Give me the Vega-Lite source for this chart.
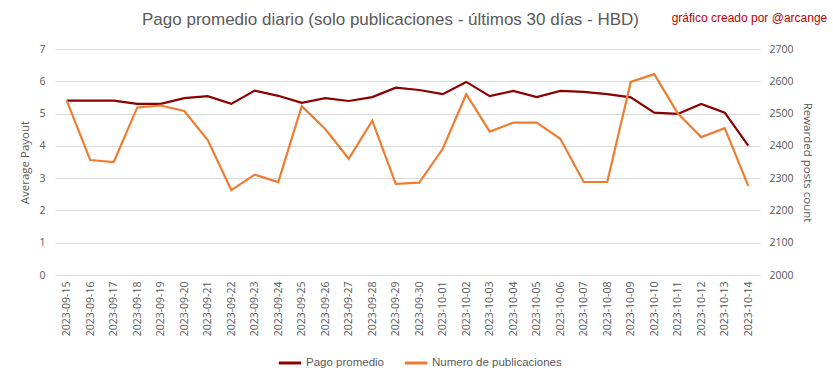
{
  "$schema": "https://vega.github.io/schema/vega-lite/v6.json",
  "width": 705,
  "height": 226,
  "autosize": {"type": "none"},
  "padding": {"left": 55, "top": 49, "right": 73, "bottom": 104},
  "background": "white",
  "title": {
    "text": "Pago promedio diario (solo publicaciones - últimos 30 días - HBD)",
    "anchor": "middle",
    "frame": "group",
    "dx": -17,
    "offset": -17,
    "font": "Liberation Sans",
    "fontSize": 17,
    "fontWeight": "normal",
    "color": "#595959"
  },
  "data": {
    "values": [
      {"date": "2023-09-15", "pago": 5.40, "num": 2540},
      {"date": "2023-09-16", "pago": 5.40, "num": 2356},
      {"date": "2023-09-17", "pago": 5.40, "num": 2350},
      {"date": "2023-09-18", "pago": 5.30, "num": 2519},
      {"date": "2023-09-19", "pago": 5.30, "num": 2525},
      {"date": "2023-09-20", "pago": 5.48, "num": 2508},
      {"date": "2023-09-21", "pago": 5.54, "num": 2418},
      {"date": "2023-09-22", "pago": 5.30, "num": 2263},
      {"date": "2023-09-23", "pago": 5.71, "num": 2311},
      {"date": "2023-09-24", "pago": 5.55, "num": 2288},
      {"date": "2023-09-25", "pago": 5.33, "num": 2523},
      {"date": "2023-09-26", "pago": 5.48, "num": 2452},
      {"date": "2023-09-27", "pago": 5.39, "num": 2360},
      {"date": "2023-09-28", "pago": 5.51, "num": 2478},
      {"date": "2023-09-29", "pago": 5.80, "num": 2282},
      {"date": "2023-09-30", "pago": 5.73, "num": 2286},
      {"date": "2023-10-01", "pago": 5.60, "num": 2391},
      {"date": "2023-10-02", "pago": 5.98, "num": 2560},
      {"date": "2023-10-03", "pago": 5.54, "num": 2444},
      {"date": "2023-10-04", "pago": 5.70, "num": 2472},
      {"date": "2023-10-05", "pago": 5.51, "num": 2472},
      {"date": "2023-10-06", "pago": 5.70, "num": 2422},
      {"date": "2023-10-07", "pago": 5.67, "num": 2288},
      {"date": "2023-10-08", "pago": 5.60, "num": 2288},
      {"date": "2023-10-09", "pago": 5.50, "num": 2598},
      {"date": "2023-10-10", "pago": 5.03, "num": 2622},
      {"date": "2023-10-11", "pago": 4.99, "num": 2501},
      {"date": "2023-10-12", "pago": 5.30, "num": 2427},
      {"date": "2023-10-13", "pago": 5.03, "num": 2455},
      {"date": "2023-10-14", "pago": 4.01, "num": 2276}
    ]
  },
  "encoding": {
    "x": {
      "field": "date",
      "type": "ordinal",
      "scale": {"type": "point", "padding": 0.5},
      "axis": {
        "title": null,
        "labelAngle": -90,
        "labelFont": "Open Sans",
        "labelFontSize": 10.5,
        "labelColor": "#595959",
        "labelPadding": 6,
        "ticks": false,
        "domain": false,
        "grid": false
      }
    }
  },
  "layer": [
    {
      "layer": [
        {
          "mark": {"type": "line", "strokeWidth": 2.2},
          "encoding": {
            "y": {
              "field": "pago",
              "type": "quantitative",
              "scale": {"domain": [0, 7]},
              "axis": {
                "title": "Average Payout",
                "titleFont": "Open Sans",
                "titleFontSize": 11.5,
                "titleFontWeight": "normal",
                "titleColor": "#595959",
                "titlePadding": 8,
                "labelFont": "Open Sans",
                "labelFontSize": 10.5,
                "labelColor": "#595959",
                "labelPadding": 10,
                "values": [0, 1, 2, 3, 4, 5, 6, 7],
                "format": "d",
                "labelOverlap": false,
                "ticks": false,
                "domain": false,
                "grid": true,
                "gridColor": "#d9d9d9",
                "gridWidth": 1
              }
            },
            "color": {"datum": "Pago promedio"}
          }
        },
        {
          "data": {"values": [{"note": "gráfico creado por @arcange"}]},
          "mark": {
            "type": "text",
            "align": "right",
            "baseline": "middle",
            "dx": 79,
            "font": "Liberation Sans",
            "fontSize": 12,
            "color": "#c00000"
          },
          "encoding": {
            "x": {"datum": "2023-10-14"},
            "y": {
              "datum": 7.96,
              "type": "quantitative",
              "axis": {
                "title": "Average Payout",
                "titleFont": "Open Sans",
                "titleFontSize": 11.5,
                "titleFontWeight": "normal",
                "titleColor": "#595959",
                "titlePadding": 8,
                "labelFont": "Open Sans",
                "labelFontSize": 10.5,
                "labelColor": "#595959",
                "labelPadding": 10,
                "values": [0, 1, 2, 3, 4, 5, 6, 7],
                "format": "d",
                "labelOverlap": false,
                "ticks": false,
                "domain": false,
                "grid": true,
                "gridColor": "#d9d9d9",
                "gridWidth": 1
              }
            },
            "text": {"field": "note"}
          }
        }
      ]
    },
    {
      "mark": {"type": "line", "strokeWidth": 2.2},
      "encoding": {
        "y": {
          "field": "num",
          "type": "quantitative",
          "scale": {"domain": [2000, 2700]},
          "axis": {
            "orient": "right",
            "title": "Rewarded posts count",
            "titleFont": "Open Sans",
            "titleFontSize": 11.5,
            "titleFontWeight": "normal",
            "titleColor": "#595959",
            "titlePadding": 8,
            "labelFont": "Open Sans",
            "labelFontSize": 10.5,
            "labelColor": "#595959",
            "labelPadding": 9,
            "values": [2000, 2100, 2200, 2300, 2400, 2500, 2600, 2700],
            "format": "d",
            "labelOverlap": false,
            "ticks": false,
            "domain": false,
            "grid": false
          }
        },
        "color": {"datum": "Numero de publicaciones"}
      }
    }
  ],
  "resolve": {"scale": {"y": "independent"}},
  "config": {
    "view": {"stroke": null},
    "range": {"category": ["#8b0000", "#ed7d31"]},
    "legend": {
      "orient": "none",
      "legendX": 222,
      "legendY": 301,
      "direction": "horizontal",
      "title": null,
      "symbolType": "stroke",
      "symbolSize": 500,
      "symbolStrokeWidth": 3,
      "labelFont": "Liberation Sans",
      "labelFontSize": 11.5,
      "labelColor": "#595959",
      "columnPadding": 14,
      "labelOffset": 3
    }
  }
}
